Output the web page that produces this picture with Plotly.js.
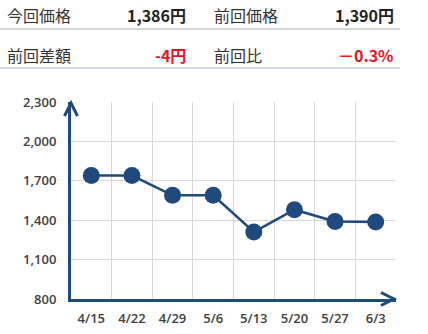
<!DOCTYPE html>
<html>
<head>
<meta charset="utf-8">
<script src="https://cdn.plot.ly/plotly-3.0.1.min.js"></script>
<style>html,body{margin:0;padding:0;background:#fff;}#chart{width:428px;height:334px;}</style>
</head>
<body>
<div id="chart"></div>
<script>
const dates = ["4/15", "4/22", "4/29", "5/6", "5/13", "5/20", "5/27", "6/3"];
const prices = [1740, 1740, 1590, 1590, 1310, 1480, 1390, 1386];
const yTicks = [800, 1100, 1400, 1700, 2000, 2300];
const headerLabels = ["今回価格", "前回価格", "前回差額", "前回比"];
const headerValues = ["1,386円", "1,390円", "-4円", "－0.3%"];

const navy = "#1f4a7d";
const fontFam = "'Noto Sans CJK JP', 'Noto Sans', sans-serif";
const tickFam = "'Open Sans', 'Noto Sans', sans-serif";

const trace = {
  x: dates, y: prices, type: "scatter", mode: "lines+markers",
  line: {color: navy, width: 2.5},
  marker: {color: navy, size: 17},
  hoverinfo: "skip"
};

const W = 325, H = 197;
function px(x) { return (x - 71) / W; }
function py(y) { return (299 - y) / H; }

const annotations = [];
const labelPos = [[5, 15], [212, 15], [5, 55], [212, 55]];
const valuePos = [[188, 15], [396, 15], [188, 55], [396, 55]];
const valueColors = ["#222222", "#222222", "#e8141c", "#e8141c"];
headerLabels.forEach((t, i) => {
  annotations.push({text: t, xref: "paper", yref: "paper", x: px(labelPos[i][0]), y: py(labelPos[i][1]),
    xanchor: "left", yanchor: "middle", showarrow: false,
    font: {family: fontFam, size: 16, color: "#333333"}});
});
headerValues.forEach((t, i) => {
  annotations.push({text: t, xref: "paper", yref: "paper", x: px(valuePos[i][0]), y: py(valuePos[i][1]),
    xanchor: "right", yanchor: "middle", showarrow: false,
    font: {family: fontFam, size: 16, color: valueColors[i], weight: "bold"}});
});

const shapes = [
  {type: "line", xref: "paper", yref: "paper", x0: px(0), x1: px(400), y0: py(29), y1: py(29),
   line: {color: "#d4d4d4", width: 2}},
  {type: "line", xref: "paper", yref: "paper", x0: px(0), x1: px(400), y0: py(68), y1: py(68),
   line: {color: "#bcd3ec", width: 1.5}},
  {type: "path", xref: "paper", yref: "paper", xsizemode: "pixel", ysizemode: "pixel",
   xanchor: 0, yanchor: py(103), path: "M-6.5,-13 L0,0 L6.5,-13",
   line: {color: navy, width: 3}},
  {type: "path", xref: "paper", yref: "paper", xsizemode: "pixel", ysizemode: "pixel",
   xanchor: px(394), yanchor: 0, path: "M-13,6.5 L0,0 L-13,-6.5",
   line: {color: navy, width: 3}}
];

const layout = {
  width: 428, height: 334,
  margin: {l: 71, r: 32, t: 102, b: 35},
  paper_bgcolor: "#ffffff", plot_bgcolor: "#ffffff",
  showlegend: false,
  font: {family: fontFam},
  xaxis: {
    type: "category", range: [-0.5, 7.5], tickson: "boundaries",
    showgrid: true, gridcolor: "#d9d9d9", gridwidth: 1,
    showline: true, linecolor: navy, linewidth: 3,
    ticks: "", ticklabelstandoff: 5,
    tickfont: {family: tickFam, size: 13, color: "#404040", weight: 600},
    zeroline: false, fixedrange: true
  },
  yaxis: {
    range: [800, 2300], tickvals: yTicks, tickformat: ",d",
    showgrid: true, gridcolor: "#d9d9d9", gridwidth: 1,
    showline: true, linecolor: navy, linewidth: 3,
    ticks: "", ticklabelstandoff: 9,
    tickfont: {family: tickFam, size: 13, color: "#404040", weight: 600},
    zeroline: false, fixedrange: true
  },
  annotations: annotations,
  shapes: shapes
};

Plotly.newPlot("chart", [trace], layout, {displayModeBar: false, staticPlot: true});
</script>
</body>
</html>
